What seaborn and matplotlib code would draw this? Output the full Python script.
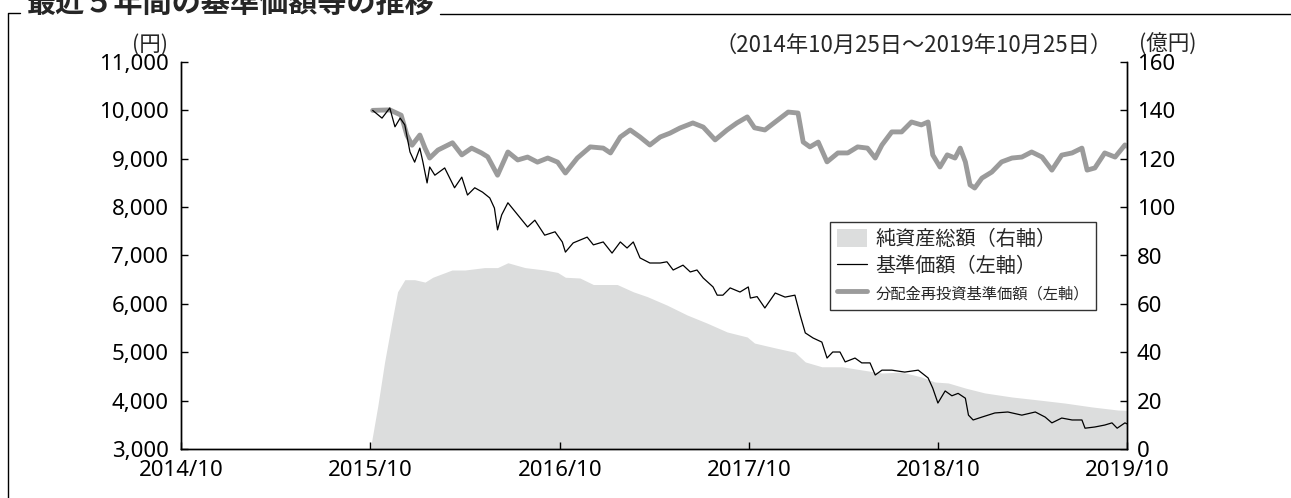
import pandas as pd
import numpy as np
import seaborn as sns
import matplotlib.pyplot as plt
from matplotlib.lines import Line2D
from matplotlib.patches import Patch
from matplotlib.ticker import StrMethodFormatter

# 基準価額 (left axis, yen)
nav_dates = [
    '2015-10-30', '2015-11-17', '2015-12-02', '2015-12-12', '2015-12-22', '2015-12-31',
    '2016-01-10', '2016-01-19', '2016-01-29', '2016-02-04', '2016-02-12', '2016-02-17',
    '2016-02-27', '2016-03-17', '2016-04-05', '2016-04-19', '2016-04-30', '2016-05-14',
    '2016-05-29', '2016-06-12', '2016-06-21', '2016-06-27', '2016-07-05', '2016-07-17',
    '2016-08-05', '2016-08-24', '2016-09-07', '2016-09-26', '2016-10-16', '2016-10-30',
    '2016-11-05', '2016-11-20', '2016-12-17', '2016-12-29', '2017-01-17', '2017-02-03',
    '2017-02-19', '2017-03-04', '2017-03-16', '2017-03-29', '2017-04-17', '2017-05-07',
    '2017-05-20', '2017-06-01', '2017-06-20', '2017-07-04', '2017-07-17', '2017-07-29',
    '2017-08-17', '2017-08-25', '2017-09-05', '2017-09-19', '2017-10-08', '2017-10-24',
    '2017-10-28', '2017-11-10', '2017-11-25', '2017-12-15', '2018-01-03', '2018-01-22',
    '2018-02-01', '2018-02-11', '2018-02-26', '2018-03-15', '2018-03-25', '2018-04-05',
    '2018-04-19', '2018-04-29', '2018-05-18', '2018-05-31', '2018-06-16', '2018-06-26',
    '2018-07-09', '2018-07-28', '2018-08-22', '2018-09-17', '2018-10-06', '2018-10-15',
    '2018-10-25', '2018-11-08', '2018-11-21', '2018-12-03', '2018-12-17', '2018-12-23',
    '2019-01-01', '2019-01-18', '2019-02-12', '2019-03-09', '2019-04-05', '2019-05-01',
    '2019-05-20', '2019-06-02', '2019-06-21', '2019-07-11', '2019-07-30', '2019-08-05',
    '2019-08-24', '2019-09-12', '2019-09-26', '2019-10-06', '2019-10-21', '2019-10-25',
]
nav_values = [
    10000, 9840, 10050, 9660, 9840, 9700,
    9140, 8930, 9220, 8930, 8500, 8830,
    8660, 8810, 8400, 8620, 8250, 8400,
    8310, 8190, 7980, 7530, 7840, 8090,
    7840, 7590, 7730, 7420, 7490, 7280,
    7070, 7260, 7380, 7220, 7280, 7050,
    7280, 7155, 7280, 6950, 6845, 6845,
    6870, 6700, 6800, 6660, 6700, 6535,
    6350, 6180, 6180, 6330, 6245, 6350,
    6120, 6150, 5915, 6225, 6140, 6180,
    5770, 5400, 5295, 5210, 4880, 5005,
    5005, 4800, 4880, 4780, 4780, 4530,
    4630, 4630, 4590, 4630, 4470, 4260,
    3950, 4200, 4100, 4150, 4050, 3700,
    3600, 3660, 3745, 3765, 3700, 3765,
    3660, 3540, 3640, 3600, 3600, 3430,
    3455, 3495, 3540, 3430, 3540, 3520,
]

# 分配金再投資基準価額 (left axis, yen)
reinv_dates = [
    '2015-10-30', '2015-12-02', '2015-12-24', '2016-01-04', '2016-01-14', '2016-01-29',
    '2016-02-08', '2016-02-17', '2016-03-04', '2016-04-01', '2016-04-19', '2016-05-08',
    '2016-05-27', '2016-06-08', '2016-06-27', '2016-07-17', '2016-08-05', '2016-08-24',
    '2016-09-12', '2016-10-02', '2016-10-21', '2016-11-05', '2016-11-28', '2016-12-23',
    '2017-01-17', '2017-01-31', '2017-02-19', '2017-03-10', '2017-03-29', '2017-04-17',
    '2017-05-07', '2017-05-26', '2017-06-14', '2017-07-09', '2017-07-29', '2017-08-21',
    '2017-09-13', '2017-10-02', '2017-10-22', '2017-11-05', '2017-11-25', '2017-12-15',
    '2018-01-09', '2018-01-28', '2018-02-07', '2018-02-20', '2018-03-08', '2018-03-25',
    '2018-04-15', '2018-05-04', '2018-05-23', '2018-06-11', '2018-06-26', '2018-07-09',
    '2018-07-28', '2018-08-16', '2018-09-04', '2018-09-23', '2018-10-06', '2018-10-15',
    '2018-10-29', '2018-11-12', '2018-11-27', '2018-12-07', '2018-12-17', '2018-12-26',
    '2019-01-04', '2019-01-18', '2019-02-06', '2019-02-25', '2019-03-17', '2019-04-05',
    '2019-04-24', '2019-05-14', '2019-06-02', '2019-06-21', '2019-07-11', '2019-07-30',
    '2019-08-09', '2019-08-24', '2019-09-12', '2019-10-02', '2019-10-21', '2019-10-25',
]
reinv_values = [
    10000, 10010, 9900, 9490, 9280, 9490,
    9220, 9015, 9180, 9330, 9080, 9220,
    9120, 9040, 8660, 9140, 8975, 9035,
    8930, 9015, 8930, 8705, 9015, 9245,
    9220, 9120, 9450, 9595, 9450, 9285,
    9450, 9530, 9635, 9740, 9655, 9390,
    9595, 9740, 9865, 9640, 9595, 9760,
    9965, 9945, 9345, 9245, 9345, 8935,
    9120, 9120, 9245, 9220, 9015, 9285,
    9555, 9555, 9760, 9700, 9760, 9080,
    8830, 9080, 9015, 9220, 8935, 8460,
    8395, 8600, 8725, 8935, 9015, 9035,
    9140, 9035, 8765, 9075, 9120, 9220,
    8765, 8810, 9120, 9035, 9285, 9260,
]

# 純資産総額 (right axis, 億円)
aum_dates = [
    '2015-10-27', '2015-11-09', '2015-11-22', '2015-12-06', '2015-12-17', '2015-12-31',
    '2016-01-19', '2016-02-08', '2016-02-23', '2016-03-31', '2016-04-25', '2016-06-02',
    '2016-06-27', '2016-07-17', '2016-08-19', '2016-09-26', '2016-10-21', '2016-11-05',
    '2016-12-03', '2016-12-29', '2017-02-13', '2017-03-16', '2017-04-12', '2017-05-20',
    '2017-06-28', '2017-08-06', '2017-09-13', '2017-10-22', '2017-11-05', '2017-12-15',
    '2018-01-22', '2018-02-11', '2018-03-15', '2018-04-23', '2018-05-31', '2018-07-09',
    '2018-08-16', '2018-09-23', '2018-10-19', '2018-11-14', '2018-12-17', '2019-01-23',
    '2019-03-17', '2019-05-06', '2019-06-27', '2019-08-18', '2019-10-08', '2019-10-25',
]
aum_values = [
    2, 18, 36, 52.5, 65, 70,
    70, 69, 71, 74, 74, 75,
    75, 77, 75, 74, 73, 71,
    70.7, 68, 68, 65, 63, 59.5,
    55.4, 52, 48.4, 46.3, 43.8, 41.8,
    40, 36, 34, 34, 32.7, 31.4,
    31.8, 29.8, 27.7, 27.3, 25.2, 23.2,
    21.5, 20.3, 19, 17.4, 16.1, 16,
]

year_ticks = ['2014-10-25', '2015-10-25', '2016-10-25', '2017-10-25', '2018-10-25', '2019-10-25']
year_labels = ['2014/10', '2015/10', '2016/10', '2017/10', '2018/10', '2019/10']

nav = pd.DataFrame({'date': pd.to_datetime(nav_dates), 'value': nav_values})
reinv = pd.DataFrame({'date': pd.to_datetime(reinv_dates), 'value': reinv_values})
aum = pd.DataFrame({'date': pd.to_datetime(aum_dates), 'value': aum_values})

sns.set_style('white')
plt.rcParams['font.family'] = ['Noto Sans', 'Noto Sans CJK JP', 'DejaVu Sans']
plt.rcParams['axes.unicode_minus'] = False
cjk = ['Noto Sans CJK JP', 'DejaVu Sans']

fig = plt.figure(figsize=(12.91, 4.98), dpi=100)
ax = fig.add_axes([181 / 1291, 1 - 449 / 498, (1127 - 181) / 1291, (449 - 62) / 498])
ax2 = ax.twinx()

area_color = '#dcdddd'
grey_color = '#9b9b9b'

ax2.fill_between(aum['date'], 0, aum['value'], color=area_color, lw=0)
ax2.set_ylim(0, 160)
ax2.set_yticks(np.arange(0, 161, 20))

ax.set_zorder(ax2.get_zorder() + 1)
ax.patch.set_visible(False)

sns.lineplot(data=reinv, x='date', y='value', ax=ax, color=grey_color, lw=3.5, legend=False)
sns.lineplot(data=nav, x='date', y='value', ax=ax, color='black', lw=0.9, legend=False)

ax.set_ylim(3000, 11000)
ax.set_yticks(np.arange(3000, 11001, 1000))
ax.yaxis.set_major_formatter(StrMethodFormatter('{x:,.0f}'))
ax.set_xlim(pd.Timestamp(year_ticks[0]), pd.Timestamp(year_ticks[-1]))
ax.set_xticks(pd.to_datetime(year_ticks))
ax.set_xticklabels(year_labels)
ax.set_xlabel('')
ax.set_ylabel('')

for a in (ax, ax2):
    a.spines['top'].set_visible(False)
    for s in ('left', 'right', 'bottom'):
        a.spines[s].set_color('black')
        a.spines[s].set_linewidth(1.0)
ax.tick_params(axis='both', direction='in', length=5, width=1, labelsize=16, colors='black')
ax.tick_params(axis='y', left=True, right=False, pad=9)
ax.tick_params(axis='x', bottom=True, pad=8)
ax2.tick_params(axis='y', direction='in', length=5, width=1, labelsize=16, colors='black',
                pad=7, right=True)

handles = [
    Patch(facecolor=area_color, edgecolor='none'),
    Line2D([], [], color='black', lw=0.9),
    Line2D([], [], color=grey_color, lw=3.5),
]
labels = ['純資産総額（右軸）', '基準価額（左軸）', '分配金再投資基準価額（左軸）']
leg = ax.legend(handles, labels, loc='upper left', bbox_to_anchor=(0.686, 0.587),
                frameon=True, fancybox=False, prop={'family': cjk, 'size': 14.5},
                handlelength=1.5, handleheight=1.0, handletextpad=0.4, borderpad=0.35,
                labelspacing=0.3, borderaxespad=0)
leg.get_frame().set_edgecolor('black')
leg.get_frame().set_linewidth(1.0)
leg.get_texts()[2].set_fontsize(11)

# unit labels and period
fig.text(150 / 1291, 1 - 45 / 498, '(円)', fontsize=15.5, family=cjk, ha='center', va='center')
fig.text(1168 / 1291, 1 - 45 / 498, '(億円)', fontsize=15.5, family=cjk, ha='center', va='center')
fig.text(1113 / 1291, 1 - 45 / 498, '（2014年10月25日～2019年10月25日）', fontsize=16,
         family=cjk, ha='right', va='center')

# title and frame
fig.text(27 / 1291, 1 - 3 / 498, '最近５年間の基準価額等の推移', fontsize=21, family=cjk,
         fontweight='bold', ha='left', va='center')
fig.add_artist(Line2D([8 / 1291, 8 / 1291, 20 / 1291], [0, 1 - 13 / 498, 1 - 13 / 498],
                      color='black', lw=1.0))
fig.add_artist(Line2D([440 / 1291, 1], [1 - 14 / 498, 1 - 14 / 498], color='black', lw=1.0))

fig.savefig('out.png', dpi=100)
